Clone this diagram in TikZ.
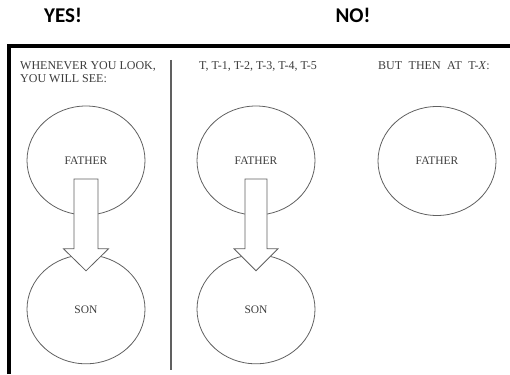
\documentclass[tikz,border=0pt]{standalone}
\usepackage{fontspec}
\setmainfont{Liberation Serif}
\newfontfamily\labelfont{Carlito}
\usepackage{tikz}
\usetikzlibrary{positioning, calc, shapes.geometric}
\definecolor{inkgray}{HTML}{3C3C3C}
\definecolor{linegray}{HTML}{606060}

\begin{document}
\begin{tikzpicture}[x=1pt, y=-1pt]
	% Define styles
	\tikzset{
		title/.style={font=\labelfont\bfseries\fontsize{21}{24}\selectfont, inner sep=0pt},
		head/.style={font=\fontsize{12}{13.5}\selectfont, text=inkgray, inner sep=0pt, align=left},
		person/.style={ellipse, draw=linegray, line width=0.8pt, minimum width=118pt, minimum height=109pt, inner sep=0pt, text=inkgray, font=\fontsize{11.5}{13}\selectfont},
		blockarrow/.style={draw=linegray, line width=0.8pt, fill=white, line join=miter},
		frame/.style={line width=3.5pt, black},
		divider/.style={line width=1.2pt, linegray}
	}
	\useasboundingbox (0,0) rectangle (510,374);
	
	% Titles
	\node[title] (yes) at (63,15) {YES!};
	\node[title] (no) at (353,15) {NO!};
	
	% Frame and divider
	\coordinate (fbl) at (9,374);
	\coordinate (ftl) at (9,46);
	\coordinate (ftr) at (512,46);
	\draw[frame] (fbl) -- (ftl) -- (ftr);
	\coordinate (dtop) at (171,60);
	\coordinate (dbot) at (171,370);
	\draw[divider] (dtop) -- (dbot);
	
	% Headings
	\node[head, anchor=north west] (heada) at (20,61) {WHENEVER YOU LOOK,\\YOU WILL SEE:};
	\node[head, anchor=north west] (headb) at (199,61) {T, T-1, T-2, T-3, T-4, T-5};
	\node[head, anchor=north west] (headc) at (378,61) {BUT\hspace{6.5pt}THEN\hspace{6.5pt}AT\hspace{6.5pt}T-\textit{X}:};
	
	% Nodes
	\node[person] (fathera) at (86,160.5) {FATHER};
	\node[person] (fatherb) at (256,160.5) {FATHER};
	\node[person] (fatherc) at (437,161) {FATHER};
	\node[person, below=39pt of fathera] (sona) {SON};
	\node[person, below=39pt of fatherb] (sonb) {SON};
	
	% Arrows
	\coordinate (taila) at ($(fathera.center)+(0,18.5)$);
	\coordinate (tipa) at ($(sona.center)+(0,-38.5)$);
	\draw[blockarrow] ($(taila)+(-12,0)$) -- ($(taila)+(12,0)$) -- ($(tipa)+(12,-22)$) -- ($(tipa)+(22.5,-22)$) -- (tipa) -- ($(tipa)+(-22.5,-22)$) -- ($(tipa)+(-12,-22)$) -- cycle;
	
	\coordinate (tailb) at ($(fatherb.center)+(0,18.5)$);
	\coordinate (tipb) at ($(sonb.center)+(0,-38.5)$);
	\draw[blockarrow] ($(tailb)+(-11,0)$) -- ($(tailb)+(11,0)$) -- ($(tipb)+(11,-22)$) -- ($(tipb)+(22,-22)$) -- (tipb) -- ($(tipb)+(-22,-22)$) -- ($(tipb)+(-11,-22)$) -- cycle;
	
\end{tikzpicture}
\end{document}
